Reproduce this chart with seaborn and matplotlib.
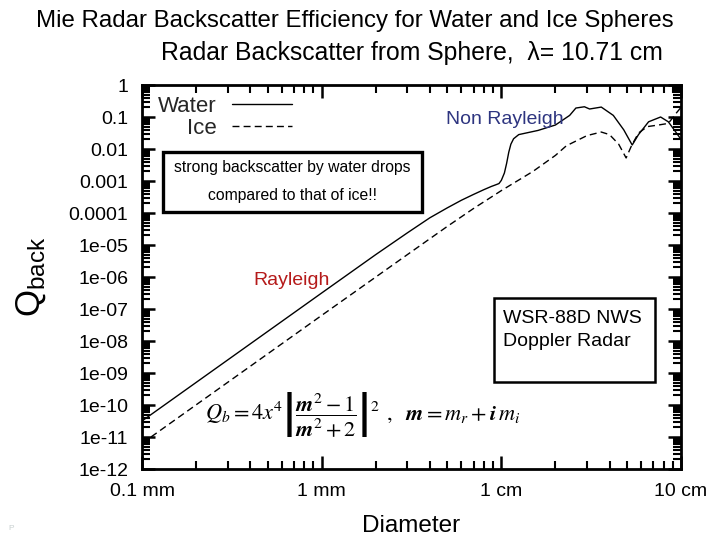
import numpy as np
import pandas as pd
import matplotlib
matplotlib.use("Agg")
import matplotlib.pyplot as plt
import seaborn as sns
from matplotlib.ticker import LogLocator, NullFormatter, FixedLocator
from matplotlib.lines import Line2D
from matplotlib.patches import Rectangle

# ---- data (diameter in cm, log10 of backscatter efficiency) ----
water_d = [0.01, 0.1, 0.2, 0.3, 0.4, 0.5, 0.6, 0.7, 0.8, 0.88, 0.93, 0.97,
           1.0, 1.04, 1.07, 1.1, 1.13, 1.17, 1.25, 1.6, 2.0, 2.4, 2.6, 2.9,
           3.1, 3.6, 4.2, 4.8, 5.35, 5.8, 6.6, 7.7, 8.5, 9.3, 10.0]
water_logq = [-10.5, -6.5, -5.3, -4.62, -4.15, -3.84, -3.6, -3.42, -3.27,
              -3.17, -3.12, -3.08, -2.98, -2.75, -2.45, -2.1, -1.85, -1.68,
              -1.55, -1.42, -1.25, -0.95, -0.72, -0.68, -0.75, -0.69, -0.95,
              -1.4, -1.875, -1.55, -1.15, -1.0, -1.15, -1.45, -1.7]
ice_d = [0.01, 0.1, 0.3, 0.5, 0.7, 1.0, 1.5, 2.0, 2.3, 3.0, 3.6, 4.0, 4.5,
         4.95, 5.3, 5.8, 6.5, 7.5, 8.5, 9.5, 10.0]
ice_logq = [-11.2, -7.2, -5.3, -4.42, -3.86, -3.3, -2.7, -2.2, -1.9, -1.58,
            -1.47, -1.55, -1.85, -2.28, -1.9, -1.5, -1.3, -1.25, -1.2, -0.85,
            -0.7]

x_ticks = [0.01, 0.1, 1.0, 10.0]
x_labels = ["0.1 mm", "1 mm", "1 cm", "10 cm"]
y_ticks = [1e0, 1e-1, 1e-2, 1e-3, 1e-4, 1e-5, 1e-6, 1e-7, 1e-8, 1e-9, 1e-10,
           1e-11, 1e-12]
y_labels = ["1", "0.1", "0.01", "0.001", "0.0001", "1e-05", "1e-06", "1e-07",
            "1e-08", "1e-09", "1e-10", "1e-11", "1e-12"]

water = pd.DataFrame({"D": water_d, "Q": np.power(10.0, water_logq)})
ice = pd.DataFrame({"D": ice_d, "Q": np.power(10.0, ice_logq)})

sns.set_theme(style="ticks")
plt.rcParams["font.family"] = ["Liberation Sans", "DejaVu Sans"]

fig = plt.figure(figsize=(7.2, 5.4), dpi=100)
ax = fig.add_axes([142 / 720, 1 - 469 / 540, (681 - 142) / 720, (469 - 85) / 540])

sns.lineplot(data=water, x="D", y="Q", ax=ax, color="black", lw=1.0,
             estimator=None, sort=False)
sns.lineplot(data=ice, x="D", y="Q", ax=ax, color="black", lw=1.0,
             estimator=None, sort=False)
ax.lines[1].set_dashes([5, 3])

ax.set_xscale("log")
ax.set_yscale("log")
ax.set_xlim(0.01, 10)
ax.set_ylim(1e-12, 1)

ax.xaxis.set_major_locator(FixedLocator(x_ticks))
ax.set_xticklabels(x_labels)
ax.xaxis.set_minor_locator(LogLocator(base=10, subs=np.arange(2, 10), numticks=100))
ax.xaxis.set_minor_formatter(NullFormatter())
ax.yaxis.set_major_locator(FixedLocator(y_ticks))
ax.set_yticklabels(y_labels)
ax.yaxis.set_minor_locator(LogLocator(base=10, subs=np.arange(2, 10), numticks=200))
ax.yaxis.set_minor_formatter(NullFormatter())

ax.tick_params(which="both", direction="in", top=True, right=True, color="black")
ax.tick_params(which="major", length=9.5, width=1.8, labelsize=14, pad=10,
               labelcolor="black")
ax.tick_params(which="minor", length=5.5, width=1.5)
for s in ax.spines.values():
    s.set_linewidth(2.0)
    s.set_color("black")

ax.set_xlabel("Diameter", fontsize=17.5, labelpad=11, color="black")
ax.set_ylabel(r"$\mathregular{Q_{back}}$", fontsize=25, labelpad=15, color="black")
ax.set_title("Radar Backscatter from Sphere,  \u03bb= 10.71 cm", fontsize=17.8,
             pad=18, color="black")
fig.text(0.493, 0.962, "Mie Radar Backscatter Efficiency for Water and Ice Spheres",
         ha="center", va="center", fontsize=17.3, color="black")

# legend (right-aligned labels, gnuplot style)
h_w = Line2D([], [], color="black", lw=1.0)
h_i = Line2D([], [], color="black", lw=1.0, dashes=[5, 3])
leg1 = ax.legend([h_w], ["Water"], loc="center right",
                 bbox_to_anchor=(0.278, 1 - (106 - 85) / 384), frameon=False,
                 markerfirst=False, fontsize=16, handlelength=2.7,
                 handletextpad=0.7, borderpad=0, borderaxespad=0)
ax.add_artist(leg1)
ax.legend([h_i], ["Ice"], loc="center right",
          bbox_to_anchor=(0.278, 1 - (128 - 85) / 384), frameon=False,
          markerfirst=False, fontsize=16, handlelength=2.7,
          handletextpad=0.7, borderpad=0, borderaxespad=0)

# annotation box
ax.add_patch(Rectangle((0.039, 0.669), 0.48, 0.157, transform=ax.transAxes,
                       fill=False, edgecolor="black", lw=2.4, zorder=5))
ax.text(0.279, 0.786, "strong backscatter by water drops", transform=ax.transAxes,
        ha="center", va="center", fontsize=11.3, color="black")
ax.text(0.279, 0.711, "compared to that of ice!!", transform=ax.transAxes,
        ha="center", va="center", fontsize=11.3, color="black")

ax.text(0.673, 0.909, "Non Rayleigh", transform=ax.transAxes, ha="center",
        va="center", fontsize=14, color="#2e3580")
ax.text(0.278, 0.490, "Rayleigh", transform=ax.transAxes, ha="center",
        va="center", fontsize=14, color="#b51a1a")

ax.add_patch(Rectangle((0.653, 0.227), 0.299, 0.218, transform=ax.transAxes,
                       fill=True, facecolor="white", edgecolor="black", lw=1.8,
                       zorder=5))
ax.text(0.669, 0.393, "WSR-88D NWS", transform=ax.transAxes, ha="left",
        va="center", fontsize=14, color="black", zorder=6)
ax.text(0.669, 0.333, "Doppler Radar", transform=ax.transAxes, ha="left",
        va="center", fontsize=14, color="black", zorder=6)

ax.text(0.117, 0.141,
        r"$\boldsymbol{Q_b} = 4x^4\left|\dfrac{\boldsymbol{m}^2-1}{\boldsymbol{m}^2+2}\right|^2$",
        transform=ax.transAxes, ha="left", va="center", fontsize=16,
        math_fontfamily="stix", color="black")
ax.text(0.452, 0.141, r"$,\ \ \boldsymbol{m} = \boldsymbol{m_r} + \boldsymbol{i\,m_i}$",
        transform=ax.transAxes, ha="left", va="center", fontsize=16,
        math_fontfamily="stix", color="black")

fig.text(0.012, 0.018, "P", fontsize=6, color="#c8d0d0")

fig.savefig("out.png", dpi=100)
